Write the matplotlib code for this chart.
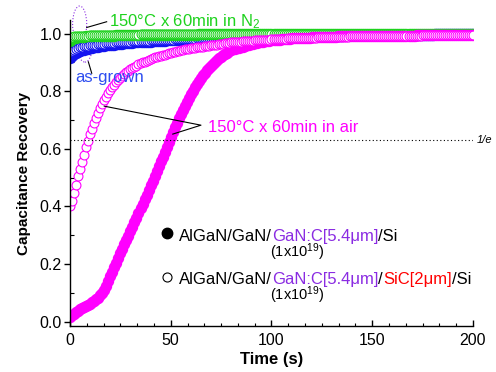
import numpy as np
import matplotlib
matplotlib.use('Agg')
import matplotlib.pyplot as plt
from matplotlib.patches import Ellipse
from matplotlib.ticker import MultipleLocator

plt.rcParams['font.family'] = ['Liberation Sans', 'DejaVu Sans']
plt.rcParams['mathtext.fontset'] = 'custom'
plt.rcParams['mathtext.rm'] = 'Liberation Sans'
plt.rcParams['mathtext.it'] = 'Liberation Sans:italic'

# sampling grid (s), one point per second
t = np.arange(0, 201)

# 150C x 60min in air, GaN:C/Si (filled)
air_si = [0.015, 0.022, 0.028, 0.033, 0.038, 0.043, 0.047, 0.051, 0.055, 0.059,
          0.063, 0.067, 0.072, 0.077, 0.083, 0.091, 0.100, 0.111, 0.125, 0.141,
          0.157, 0.173, 0.189, 0.205, 0.221, 0.237, 0.253, 0.268, 0.284, 0.299,
          0.315, 0.330, 0.346, 0.361, 0.377, 0.393, 0.409, 0.425, 0.441, 0.457,
          0.473, 0.489, 0.506, 0.522, 0.539, 0.556, 0.573, 0.590, 0.607, 0.624,
          0.641, 0.658, 0.675, 0.691, 0.707, 0.722, 0.736, 0.750, 0.764, 0.777,
          0.789, 0.801, 0.813, 0.824, 0.835, 0.845, 0.855, 0.864, 0.873, 0.881,
          0.889, 0.896, 0.903, 0.909, 0.915, 0.920, 0.925, 0.930, 0.934, 0.938,
          0.942,
          0.945, 0.947, 0.949, 0.951, 0.953, 0.955, 0.957, 0.959, 0.961, 0.963,
          0.965, 0.966, 0.968, 0.969, 0.971, 0.972, 0.973, 0.974, 0.975, 0.976,
          0.977, 0.978, 0.979, 0.979, 0.980, 0.980, 0.981, 0.982, 0.982, 0.983,
          0.983, 0.984, 0.984, 0.985, 0.985, 0.985, 0.986, 0.986, 0.986, 0.987,
          0.987, 0.987, 0.988, 0.988, 0.988, 0.988, 0.989, 0.989, 0.989, 0.989,
          0.989, 0.989, 0.990, 0.990, 0.990, 0.990, 0.990, 0.990, 0.991, 0.991,
          0.991, 0.991, 0.991, 0.991, 0.991, 0.991, 0.992, 0.992, 0.992, 0.992,
          0.992, 0.992, 0.992, 0.992, 0.992, 0.992, 0.992, 0.993, 0.993, 0.993,
          0.993, 0.993, 0.993, 0.993, 0.993, 0.993, 0.993, 0.993, 0.993, 0.993,
          0.993, 0.994, 0.994, 0.994, 0.994, 0.994, 0.994, 0.994, 0.994, 0.994,
          0.994, 0.994, 0.994, 0.994, 0.994, 0.994, 0.994, 0.994, 0.994, 0.994,
          0.994, 0.994, 0.994, 0.994, 0.994, 0.994, 0.994, 0.994, 0.994, 0.994]

# 150C x 60min in air, GaN:C/SiC/Si (open)
air_sic = [0.400, 0.420, 0.445, 0.475, 0.505, 0.530, 0.555, 0.580, 0.605, 0.628,
           0.650, 0.670, 0.690, 0.708, 0.725, 0.741, 0.756, 0.769, 0.781, 0.793,
           0.804, 0.814, 0.823, 0.832, 0.840, 0.847, 0.854, 0.860, 0.866, 0.871,
           0.876, 0.881, 0.885, 0.889, 0.893, 0.897, 0.900, 0.903, 0.906, 0.909,
           0.912, 0.915, 0.917, 0.919, 0.921, 0.923, 0.925, 0.927, 0.929, 0.931,
           0.933, 0.935, 0.937, 0.939, 0.940, 0.942, 0.943, 0.945, 0.946, 0.948,
           0.949, 0.950, 0.951, 0.952, 0.953, 0.954, 0.955, 0.956, 0.957, 0.958,
           0.959, 0.960, 0.961, 0.962, 0.963, 0.964, 0.965, 0.966, 0.967, 0.968,
           0.969,
           0.970, 0.970, 0.971, 0.971, 0.972, 0.973, 0.973, 0.974, 0.974, 0.975,
           0.975, 0.976, 0.976, 0.977, 0.977, 0.978, 0.978, 0.979, 0.979, 0.980,
           0.980, 0.981, 0.981, 0.981, 0.982, 0.982, 0.982, 0.983, 0.983, 0.983,
           0.984, 0.984, 0.984, 0.984, 0.985, 0.985, 0.985, 0.985, 0.986, 0.986,
           0.986, 0.986, 0.987, 0.987, 0.987, 0.987, 0.988, 0.988, 0.988, 0.988,
           0.988, 0.988, 0.989, 0.989, 0.989, 0.989, 0.989, 0.989, 0.990, 0.990,
           0.990, 0.990, 0.990, 0.990, 0.990, 0.990, 0.991, 0.991, 0.991, 0.991,
           0.991, 0.991, 0.991, 0.991, 0.992, 0.992, 0.992, 0.992, 0.992, 0.992,
           0.992, 0.992, 0.992, 0.992, 0.993, 0.993, 0.993, 0.993, 0.993, 0.993,
           0.993, 0.993, 0.993, 0.993, 0.994, 0.994, 0.994, 0.994, 0.994, 0.994,
           0.994, 0.994, 0.994, 0.994, 0.995, 0.995, 0.995, 0.995, 0.995, 0.995,
           0.995, 0.995, 0.995, 0.995, 0.996, 0.996, 0.996, 0.996, 0.996, 0.996]

# as-grown, GaN:C/Si (filled)
grown_si = [0.915, 0.922, 0.928, 0.932, 0.936, 0.939, 0.942, 0.944, 0.946, 0.948,
            0.950, 0.951, 0.953, 0.954, 0.955, 0.956, 0.957, 0.958, 0.959, 0.960,
            0.961,
            0.962, 0.962, 0.963, 0.964, 0.964, 0.965, 0.966, 0.966, 0.967, 0.968,
            0.968, 0.969, 0.969, 0.970, 0.970, 0.971, 0.971, 0.972, 0.972, 0.972,
            0.973, 0.973, 0.974, 0.974, 0.974, 0.975, 0.975, 0.976, 0.976, 0.977,
            0.977, 0.977, 0.978, 0.978, 0.978, 0.978, 0.979, 0.979, 0.979, 0.980,
            0.980, 0.980, 0.981, 0.981, 0.981, 0.981, 0.982, 0.982, 0.982, 0.982,
            0.983, 0.983, 0.983, 0.983, 0.984, 0.984, 0.984, 0.984, 0.985, 0.985,
            0.985, 0.985, 0.985, 0.986, 0.986, 0.986, 0.986, 0.987, 0.987, 0.987,
            0.987, 0.987, 0.988, 0.988, 0.988, 0.988, 0.988, 0.989, 0.989, 0.989,
            0.989, 0.989, 0.989, 0.990, 0.990, 0.990, 0.990, 0.990, 0.990, 0.991,
            0.991, 0.991, 0.991, 0.991, 0.991, 0.991, 0.992, 0.992, 0.992, 0.992,
            0.992, 0.992, 0.992, 0.992, 0.992, 0.993, 0.993, 0.993, 0.993, 0.993,
            0.993, 0.993, 0.993, 0.993, 0.993, 0.994, 0.994, 0.994, 0.994, 0.994,
            0.994, 0.994, 0.994, 0.994, 0.994, 0.994, 0.995, 0.995, 0.995, 0.995,
            0.995, 0.995, 0.995, 0.995, 0.995, 0.995, 0.995, 0.995, 0.995, 0.995,
            0.995, 0.995, 0.996, 0.996, 0.996, 0.996, 0.996, 0.996, 0.996, 0.996,
            0.996, 0.996, 0.996, 0.996, 0.996, 0.996, 0.996, 0.996, 0.996, 0.996,
            0.997, 0.997, 0.997, 0.997, 0.997, 0.997, 0.997, 0.997, 0.997, 0.997,
            0.997, 0.997, 0.997, 0.997, 0.998, 0.998, 0.998, 0.998, 0.998, 0.998]

# as-grown, GaN:C/SiC/Si (open)
grown_sic = [0.935, 0.940, 0.944, 0.947, 0.950, 0.952, 0.954, 0.956, 0.957, 0.958,
             0.959, 0.960, 0.961, 0.962, 0.963, 0.964, 0.964, 0.965, 0.966, 0.967,
             0.967,
             0.968, 0.968, 0.969, 0.969, 0.970, 0.970, 0.971, 0.971, 0.972, 0.972,
             0.973, 0.973, 0.973, 0.974, 0.974, 0.974, 0.975, 0.975, 0.975, 0.976,
             0.976, 0.976, 0.977, 0.977, 0.977, 0.978, 0.978, 0.978, 0.979, 0.979,
             0.979, 0.980, 0.980, 0.980, 0.981, 0.981, 0.981, 0.981, 0.982, 0.982,
             0.982, 0.982, 0.983, 0.983, 0.983, 0.983, 0.984, 0.984, 0.984, 0.984,
             0.985, 0.985, 0.985, 0.985, 0.985, 0.986, 0.986, 0.986, 0.986, 0.986,
             0.987, 0.987, 0.987, 0.987, 0.987, 0.988, 0.988, 0.988, 0.988, 0.988,
             0.989, 0.989, 0.989, 0.989, 0.989, 0.989, 0.990, 0.990, 0.990, 0.990,
             0.990, 0.990, 0.991, 0.991, 0.991, 0.991, 0.991, 0.991, 0.991, 0.992,
             0.992, 0.992, 0.992, 0.992, 0.992, 0.992, 0.992, 0.993, 0.993, 0.993,
             0.993, 0.993, 0.993, 0.993, 0.993, 0.993, 0.993, 0.993, 0.993, 0.993,
             0.993, 0.993, 0.994, 0.994, 0.994, 0.994, 0.994, 0.994, 0.994, 0.994,
             0.994, 0.994, 0.995, 0.995, 0.995, 0.995, 0.995, 0.995, 0.995, 0.995,
             0.995, 0.995, 0.995, 0.995, 0.996, 0.996, 0.996, 0.996, 0.996, 0.996,
             0.996, 0.996, 0.996, 0.996, 0.996, 0.996, 0.996, 0.996, 0.996, 0.996,
             0.996, 0.996, 0.997, 0.997, 0.997, 0.997, 0.997, 0.997, 0.997, 0.997,
             0.997, 0.997, 0.997, 0.997, 0.997, 0.997, 0.997, 0.997, 0.997, 0.997,
             0.997, 0.997, 0.998, 0.998, 0.998, 0.998, 0.998, 0.998, 0.998, 0.998]

# 150C x 60min in N2, GaN:C/Si (filled)
n2_si = [0.975, 0.980, 0.983, 0.985, 0.987, 0.988, 0.989, 0.989, 0.990, 0.990,
         0.991, 0.991, 0.991, 0.992, 0.992, 0.992, 0.992, 0.993, 0.993, 0.993,
         0.993,
         0.993, 0.993, 0.994, 0.994, 0.994, 0.994, 0.994, 0.994, 0.994, 0.995,
         0.995, 0.995, 0.995, 0.995, 0.995, 0.995, 0.995, 0.995, 0.995, 0.995,
         0.995, 0.995, 0.995, 0.995, 0.995, 0.996, 0.996, 0.996, 0.996, 0.996,
         0.996, 0.996, 0.996, 0.996, 0.996, 0.996, 0.996, 0.996, 0.996, 0.996,
         0.996, 0.996, 0.996, 0.997, 0.997, 0.997, 0.997, 0.997, 0.997, 0.997,
         0.997, 0.997, 0.997, 0.997, 0.997, 0.997, 0.997, 0.997, 0.997, 0.997,
         0.997, 0.997, 0.997, 0.997, 0.997, 0.997, 0.997, 0.997, 0.997, 0.997,
         0.997, 0.997, 0.997, 0.997, 0.998, 0.998, 0.998, 0.998, 0.998, 0.998,
         0.998, 0.998, 0.998, 0.998, 0.998, 0.998, 0.998, 0.998, 0.998, 0.998,
         0.998, 0.998, 0.998, 0.998, 0.998, 0.998, 0.998, 0.998, 0.998, 0.998,
         0.998, 0.998, 0.998, 0.998, 0.998, 0.998, 0.998, 0.998, 0.998, 0.998,
         0.998, 0.998, 0.998, 0.998, 0.998, 0.998, 0.998, 0.998, 0.998, 0.998,
         0.998, 0.998, 0.998, 0.998, 0.998, 0.998, 0.998, 0.998, 0.998, 0.998,
         0.999, 0.999, 0.999, 0.999, 0.999, 0.999, 0.999, 0.999, 0.999, 0.999,
         0.999, 0.999, 0.999, 0.999, 0.999, 0.999, 0.999, 0.999, 0.999, 0.999,
         0.999, 0.999, 0.999, 0.999, 0.999, 0.999, 0.999, 0.999, 0.999, 0.999,
         0.999, 0.999, 0.999, 0.999, 0.999, 0.999, 0.999, 0.999, 0.999, 0.999,
         0.999, 0.999, 0.999, 0.999, 0.999, 0.999, 0.999, 0.999, 0.999, 0.999]

# 150C x 60min in N2, GaN:C/SiC/Si (open)
n2_sic = [0.985, 0.988, 0.990, 0.991, 0.991, 0.992, 0.992, 0.993, 0.993, 0.993,
          0.994, 0.994, 0.994, 0.994, 0.994, 0.995, 0.995, 0.995, 0.995, 0.995,
          0.995,
          0.995, 0.995, 0.996, 0.996, 0.996, 0.996, 0.996, 0.996, 0.996, 0.996,
          0.996, 0.996, 0.996, 0.996, 0.997, 0.997, 0.997, 0.997, 0.997, 0.997,
          0.997, 0.997, 0.997, 0.997, 0.997, 0.997, 0.997, 0.997, 0.997, 0.997,
          0.997, 0.997, 0.997, 0.997, 0.997, 0.997, 0.997, 0.997, 0.997, 0.997,
          0.997, 0.997, 0.998, 0.998, 0.998, 0.998, 0.998, 0.998, 0.998, 0.998,
          0.998, 0.998, 0.998, 0.998, 0.998, 0.998, 0.998, 0.998, 0.998, 0.998,
          0.998, 0.998, 0.998, 0.998, 0.998, 0.998, 0.998, 0.998, 0.998, 0.998,
          0.998, 0.998, 0.998, 0.998, 0.998, 0.998, 0.998, 0.998, 0.998, 0.998,
          0.999, 0.999, 0.999, 0.999, 0.999, 0.999, 0.999, 0.999, 0.999, 0.999,
          0.999, 0.999, 0.999, 0.999, 0.999, 0.999, 0.999, 0.999, 0.999, 0.999,
          0.999, 0.999, 0.999, 0.999, 0.999, 0.999, 0.999, 0.999, 0.999, 0.999,
          0.999, 0.999, 0.999, 0.999, 0.999, 0.999, 0.999, 0.999, 0.999, 0.999,
          0.999, 0.999, 0.999, 0.999, 0.999, 0.999, 0.999, 0.999, 0.999, 0.999,
          0.999, 0.999, 0.999, 0.999, 0.999, 0.999, 0.999, 0.999, 0.999, 0.999,
          0.999, 0.999, 0.999, 0.999, 0.999, 0.999, 0.999, 0.999, 0.999, 0.999,
          0.999, 0.999, 0.999, 0.999, 0.999, 0.999, 0.999, 0.999, 0.999, 0.999,
          1.000, 1.000, 1.000, 1.000, 1.000, 1.000, 1.000, 1.000, 1.000, 1.000,
          1.000, 1.000, 1.000, 1.000, 1.000, 1.000, 1.000, 1.000, 1.000, 1.000]

c_green = '#1ed21e'
c_blue = '#1414f0'
c_mag = '#ff00ff'
c_purple = '#8a2be2'

fig = plt.figure(figsize=(4.96, 3.72), dpi=100)
ax = fig.add_axes([0.1411, 0.1237, 0.8125, 0.8225])

ms_f = 7.2
ms_o = 6.4
ax.plot(t, grown_si, 'o', ms=ms_f, color=c_blue, mec=c_blue)
ax.plot(t, grown_sic, 'o', ms=ms_o, mfc='white', mec=c_blue, mew=0.8)
ax.plot(t, n2_si, 'o', ms=ms_f, color=c_green, mec=c_green)
ax.plot(t, n2_sic, 'o', ms=ms_o, mfc='white', mec=c_green, mew=0.8)
ax.plot(t, air_si, 'o', ms=ms_f, color=c_mag, mec=c_mag)
ax.plot(t, air_sic, 'o', ms=ms_o, mfc='white', mec=c_mag, mew=0.8)

# 1/e recovery level
ax.axhline(1 - 1 / np.e, color='black', lw=0.8, ls=(0, (1, 2.2)))
ax.text(202, 1 - 1 / np.e, '1/e', fontsize=8, style='italic', va='center', ha='left')

ax.set_xlim(0, 200)
ax.set_ylim(-0.015, 1.047)
ax.xaxis.set_major_locator(MultipleLocator(50))
ax.xaxis.set_minor_locator(MultipleLocator(50 / 6))
ax.yaxis.set_major_locator(MultipleLocator(0.2))
ax.yaxis.set_minor_locator(MultipleLocator(0.1))
ax.yaxis.set_major_formatter(plt.FormatStrFormatter('%.1f'))
ax.spines['top'].set_visible(False)
ax.spines['right'].set_visible(False)
for s in ['left', 'bottom']:
    ax.spines[s].set_linewidth(1.0)
ax.tick_params(axis='x', which='major', direction='in', length=4, width=1.0, labelsize=11.5, pad=5)
ax.tick_params(axis='x', which='minor', direction='in', length=2, width=0.8)
ax.tick_params(axis='y', which='major', direction='out', length=4, width=1.0, labelsize=11.5, pad=2)
ax.tick_params(axis='y', which='minor', direction='in', length=3, width=0.8)

ax.set_xlabel('Time (s)', fontsize=12, fontweight='bold', labelpad=3)
ax.set_ylabel('Capacitance Recovery', fontsize=11, fontweight='bold', labelpad=6)

# labels, pointer lines and dotted ellipses
ax.text(19.4, 1.024, '150°C x 60min in N$_2$', color=c_green, fontsize=12, va='baseline', clip_on=False)
ax.plot([18.2, 8.3], [1.041, 1.021], color='black', lw=0.8, clip_on=False)
ax.text(2.6, 0.833, 'as-grown', color='#2d4df0', fontsize=12, va='baseline')
ax.plot([9.1, 10.8], [0.902, 0.862], color='black', lw=0.8)
ax.add_patch(Ellipse((4.8, 1.033), 7.0, 0.125, fill=False, ls=':', lw=0.8, ec=c_purple, clip_on=False))
ax.add_patch(Ellipse((7.4, 0.951), 7.0, 0.10, fill=False, ls=':', lw=0.8, ec=c_purple))
ax.text(68.3, 0.659, '150°C x 60min in air', color=c_mag, fontsize=12, va='baseline')
ax.plot([17, 65, 51], [0.748, 0.682, 0.651], color='black', lw=0.8)

# sample labels
ax.plot([48], [0.307], 'o', ms=7.5, color='black')
ax.plot([48], [0.156], 'o', ms=6.5, mfc='white', mec='black', mew=0.8)


def colored(x, y, parts, size=12):
    txt = ax.text(x, y, parts[0][0], color=parts[0][1], fontsize=size, va='bottom')
    for s, c in parts[1:]:
        txt = ax.annotate(s, xy=(1, 0), xycoords=txt, color=c, fontsize=size,
                          va='bottom', ha='left', annotation_clip=False)


colored(54.2, 0.27, [('AlGaN/GaN/', 'black'), ('GaN:C[5.4μm]', c_purple), ('/Si', 'black')])
colored(54.2, 0.122, [('AlGaN/GaN/', 'black'), ('GaN:C[5.4μm]', c_purple), ('/', 'black'),
                      ('SiC[2μm]', 'red'), ('/Si', 'black')])
ax.text(99.3, 0.223, '(1x10$^{19}$)', fontsize=10.5, va='baseline')
ax.text(99.3, 0.075, '(1x10$^{19}$)', fontsize=10.5, va='baseline')

fig.savefig('out.png', dpi=100)
